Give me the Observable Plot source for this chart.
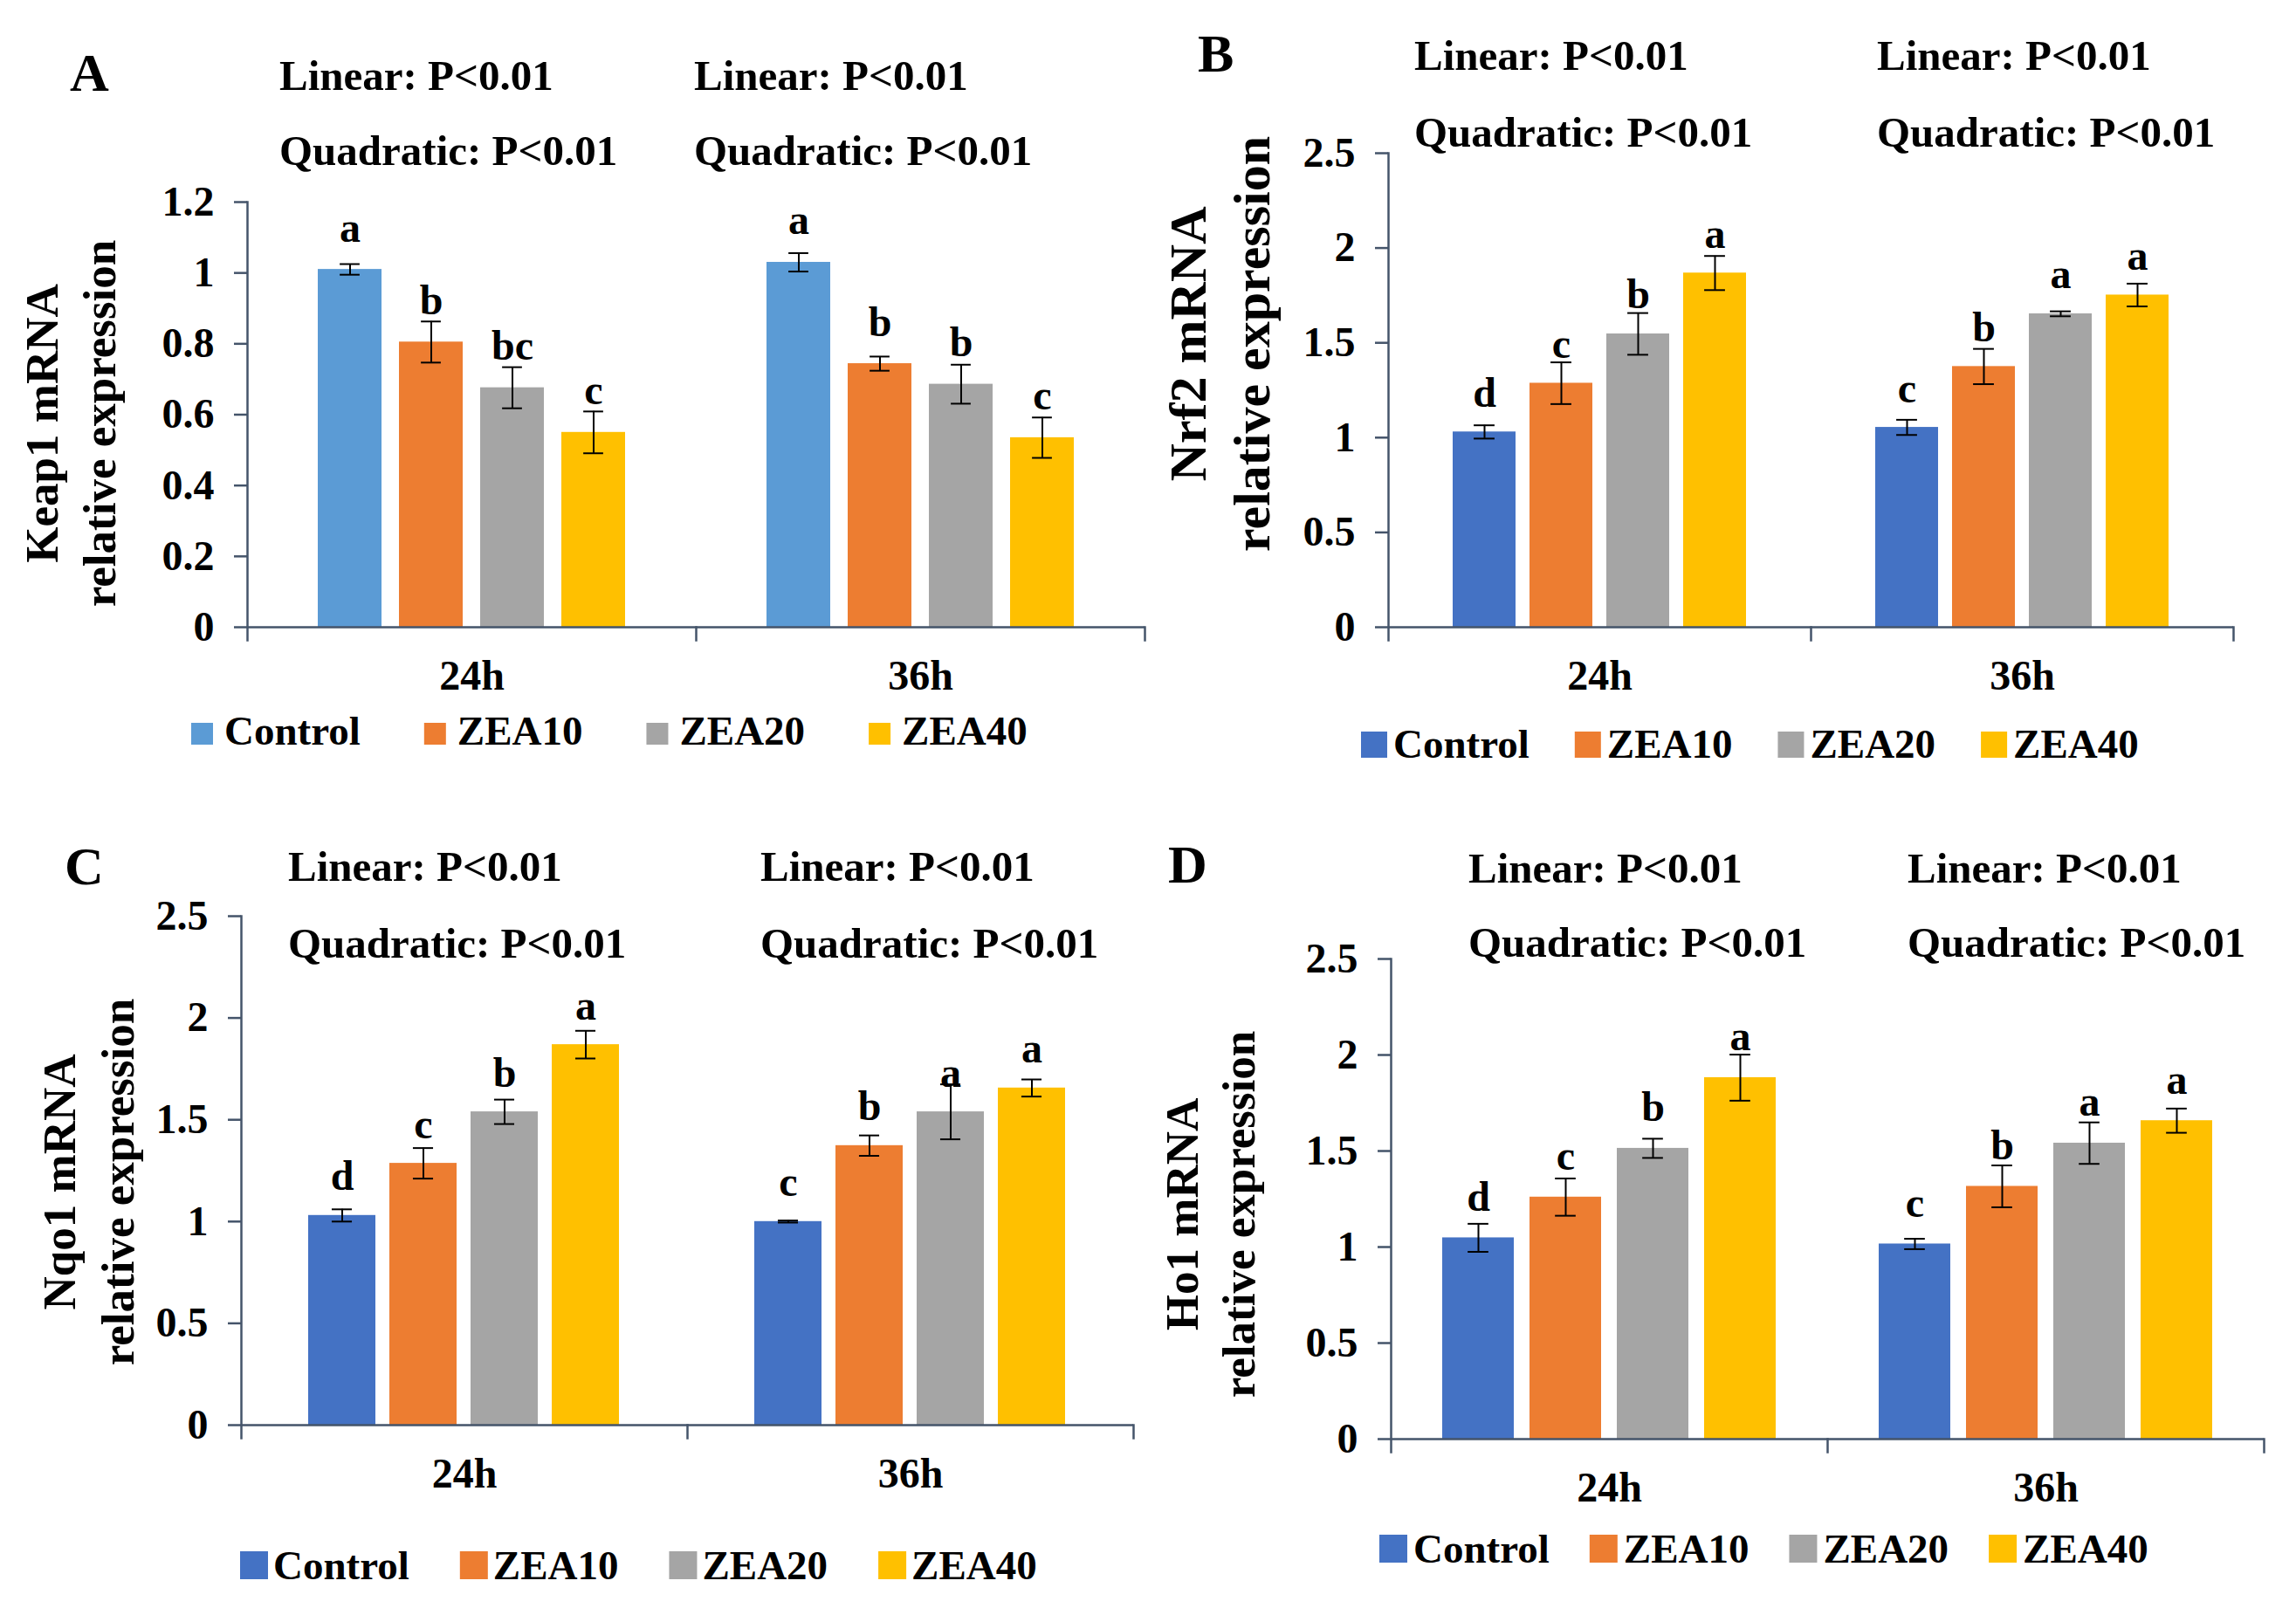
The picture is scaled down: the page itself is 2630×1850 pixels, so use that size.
<!DOCTYPE html>
<html><head><meta charset="utf-8">
<script src="https://cdn.jsdelivr.net/npm/d3@7"></script>
<script src="https://cdn.jsdelivr.net/npm/@observablehq/plot@0.6"></script>
<style>
html,body{margin:0;padding:0;background:#fff;}
#page{position:relative;width:2630px;height:1850px;display:grid;grid-template-columns:1315px 1315px;grid-template-rows:925px 925px;overflow:hidden;}
#page svg{display:block;}
</style></head><body><div id="page"></div>
<script>
// ---------- data ----------
const times = ["24h", "36h"];
const groups = ["Control", "ZEA10", "ZEA20", "ZEA40"];
const colorsA = ["#5b9bd5", "#ed7d31", "#a5a5a5", "#ffc000"];
const colorsBCD = ["#4472c4", "#ed7d31", "#a5a5a5", "#ffc000"];
const ticksKeap1 = [0, 0.2, 0.4, 0.6, 0.8, 1, 1.2];
const ticksOther = [0, 0.5, 1, 1.5, 2, 2.5];
const trendLines = ["Linear: P<0.01", "Quadratic: P<0.01"];

// Keap1 (A)
const keap1_24h = [1.01, 0.805, 0.676, 0.55];
const keap1_36h = [1.03, 0.744, 0.686, 0.535];
const keap1Err_24h = [0.015, 0.058, 0.058, 0.059];
const keap1Err_36h = [0.026, 0.02, 0.055, 0.057];
const keap1Let_24h = ["a", "b", "bc", "c"];
const keap1Let_36h = ["a", "b", "b", "c"];

// Nrf2 (B)
const nrf2_24h = [1.03, 1.287, 1.547, 1.868];
const nrf2_36h = [1.054, 1.375, 1.653, 1.752];
const nrf2Err_24h = [0.035, 0.11, 0.11, 0.09];
const nrf2Err_36h = [0.04, 0.093, 0.013, 0.06];
const nrf2Let_24h = ["d", "c", "b", "a"];
const nrf2Let_36h = ["c", "b", "a", "a"];

// Nqo1 (C)
const nqo1_24h = [1.03, 1.286, 1.539, 1.869];
const nqo1_36h = [1.0, 1.373, 1.539, 1.656];
const nqo1Err_24h = [0.03, 0.075, 0.06, 0.068];
const nqo1Err_36h = [0.005, 0.05, 0.135, 0.042];
const nqo1Let_24h = ["d", "c", "b", "a"];
const nqo1Let_36h = ["c", "b", "a", "a"];

// Ho1 (D)
const ho1_24h = [1.048, 1.26, 1.514, 1.882];
const ho1_36h = [1.016, 1.316, 1.541, 1.658];
const ho1Err_24h = [0.073, 0.097, 0.05, 0.12];
const ho1Err_36h = [0.027, 0.109, 0.108, 0.063];
const ho1Let_24h = ["d", "c", "b", "a"];
const ho1Let_36h = ["c", "b", "a", "a"];

// ---------- layout ----------
const FONT = "'Liberation Serif', 'Times New Roman', serif";
const AXIS = "#44546a";
const W = 1315, H = 925;

const panels = [
  {tag: "A", gene: "Keap1 mRNA", means: [keap1_24h, keap1_36h], errs: [keap1Err_24h, keap1Err_36h], lets: [keap1Let_24h, keap1Let_36h],
   ymax: 1.2, ticks: ticksKeap1, colors: colorsA,
   ml: 283, mr: 4, mt: 231, mb: 207, pi: 0.21, po: 0.84, letterDy: 32,
   tagPos: [80, 104], annX: [320, 795], annY: [103, 189], ylab: [48, 114, 485, 53],
   leg: {x0: 219, base: 853, sw: 25, pad: 13, gap: 73}},
  {tag: "B", gene: "Nrf2 mRNA", means: [nrf2_24h, nrf2_36h], errs: [nrf2Err_24h, nrf2Err_36h], lets: [nrf2Let_24h, nrf2Let_36h],
   ymax: 2.5, ticks: ticksOther, colors: colorsBCD,
   ml: 275, mr: 72, mt: 175, mb: 207, pi: 0.18, po: 0.84, letterDy: 29,
   tagPos: [57, 82], annX: [305, 835], annY: [80, 168], ylab: [46, 119, 394, 60],
   leg: {x0: 244, base: 868, sw: 30, pad: 7, gap: 52}},
  {tag: "C", gene: "Nqo1 mRNA", means: [nqo1_24h, nqo1_36h], errs: [nqo1Err_24h, nqo1Err_36h], lets: [nqo1Let_24h, nqo1Let_36h],
   ymax: 2.5, ticks: ticksOther, colors: colorsBCD,
   ml: 275, mr: 17, mt: 124, mb: 218, pi: 0.17, po: 0.81, letterDy: 29,
   tagPos: [74, 88], annX: [330, 871], annY: [84, 172], ylab: [68, 135, 429, 53],
   leg: {x0: 275, base: 884, sw: 32, pad: 6, gap: 58}},
  {tag: "D", gene: "Ho1 mRNA", means: [ho1_24h, ho1_36h], errs: [ho1Err_24h, ho1Err_36h], lets: [ho1Let_24h, ho1Let_36h],
   ymax: 2.5, ticks: ticksOther, colors: colorsBCD,
   ml: 278, mr: 37, mt: 173, mb: 202, pi: 0.18, po: 0.58, letterDy: 31,
   tagPos: [23, 86], annX: [367, 870], annY: [86, 171], ylab: [39, 104, 466, 53],
   leg: {x0: 265, base: 865, sw: 32, pad: 7, gap: 46}}
];

const page = document.getElementById("page");

function makePanel(cfg) {
  const rows = [];
  times.forEach((t, ti) => groups.forEach((g, gi) => rows.push({
    time: t, group: g, value: cfg.means[ti][gi], err: cfg.errs[ti][gi], letter: cfg.lets[ti][gi]
  })));
  const plotH = H - cfg.mt - cfg.mb;
  const fw = (W - cfg.ml - cfg.mr) / times.length;
  const step = fw / (groups.length - cfg.pi + 2 * cfg.po);
  const bw = step * (1 - cfg.pi);
  const capInset = Math.max(0, (bw - 24) / 2);

  const chart = Plot.plot({
    width: W, height: H,
    marginLeft: cfg.ml, marginRight: cfg.mr, marginTop: cfg.mt, marginBottom: cfg.mb,
    style: {fontFamily: FONT, fontWeight: "bold", fontSize: "48px", color: "black", background: "white", overflow: "visible"},
    fx: {domain: times, paddingInner: 0, paddingOuter: 0},
    x: {domain: groups, paddingInner: cfg.pi, paddingOuter: cfg.po, axis: null},
    y: {domain: [0, cfg.ymax]},
    color: {domain: groups, range: cfg.colors},
    marks: [
      Plot.barY(rows, {fx: "time", x: "group", y: "value", fill: "group"}),
      Plot.ruleX(rows, {fx: "time", x: "group", y1: d => d.value - d.err, y2: d => d.value + d.err, stroke: "black", strokeWidth: 2}),
      Plot.tickY(rows, {fx: "time", x: "group", y: d => d.value + d.err, stroke: "black", strokeWidth: 2, insetLeft: capInset, insetRight: capInset}),
      Plot.tickY(rows, {fx: "time", x: "group", y: d => d.value - d.err, stroke: "black", strokeWidth: 2, insetLeft: capInset, insetRight: capInset}),
      Plot.text(rows, {fx: "time", x: "group", y: "value", text: "letter", dy: -cfg.letterDy, lineAnchor: "bottom",
        fontSize: 48, fontWeight: "bold", fill: "black"}),
      Plot.ruleY([0], {stroke: AXIS, strokeWidth: 2.5}),
      Plot.frame({anchor: "left", facetAnchor: "left", stroke: AXIS, strokeWidth: 2.5, insetBottom: -15}),
      Plot.frame({anchor: "right", stroke: AXIS, strokeWidth: 2.5, insetTop: plotH, insetBottom: -15}),
      Plot.axisY({ticks: cfg.ticks, tickFormat: d => String(d), tickSize: 15, tickPadding: 23,
        stroke: AXIS, strokeWidth: 2.5, fill: "black", fontSize: 48, fontWeight: "bold", label: null}),
      Plot.axisFx({anchor: "bottom", tickSize: 0, tickPadding: 37, label: null, fontSize: 48, fontWeight: "bold", fill: "black"})
    ]
  });
  page.appendChild(chart); // attach first so text can be measured

  const svg = d3.select(chart);
  const txt = (x, y, s, size) => svg.append("text")
    .attr("x", x).attr("y", y).attr("text-anchor", "start")
    .attr("font-family", FONT).attr("font-weight", "bold")
    .attr("font-size", size).attr("fill", "black").text(s);

  // panel tag
  txt(cfg.tagPos[0], cfg.tagPos[1], cfg.tag, 62);
  // trend annotations, one pair per time group
  cfg.annX.forEach(x => trendLines.forEach((s, i) => txt(x, cfg.annY[i], s, 49)));
  // y label (two lines)
  const [x1, x2, cy, fs] = cfg.ylab;
  [[x1, cfg.gene], [x2, "relative expression"]].forEach(([x, s]) => {
    svg.append("text")
      .attr("transform", `translate(${x},${cy}) rotate(-90)`)
      .attr("text-anchor", "middle").attr("dominant-baseline", "central")
      .attr("font-family", FONT).attr("font-weight", "bold").attr("font-size", fs)
      .attr("fill", "black").text(s);
  });
  // legend
  const color = chart.scale("color");
  const L = cfg.leg;
  let cx = L.x0;
  groups.forEach(g => {
    svg.append("rect").attr("x", cx).attr("y", L.base - L.sw).attr("width", L.sw).attr("height", L.sw)
      .attr("fill", color.apply(g));
    const t = txt(cx + L.sw + L.pad, L.base, g, 47);
    let w = t.node().getComputedTextLength();
    if (!w) w = t.node().getBBox().width;
    cx += L.sw + L.pad + w + L.gap;
  });
}

panels.forEach(makePanel);
</script>
</body></html>
